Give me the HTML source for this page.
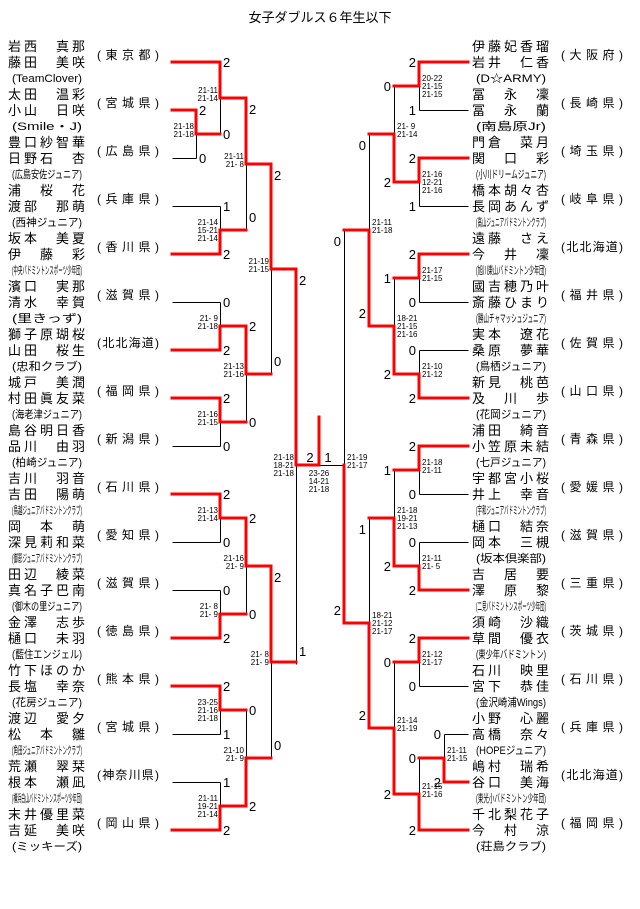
<!DOCTYPE html>
<html><head><meta charset="utf-8"><style>
html,body{margin:0;padding:0;background:#fff;width:640px;height:909px;overflow:hidden}
svg{display:block}
text{font-family:"Liberation Sans","Noto Sans CJK JP",sans-serif;fill:#000}
</style></head><body>
<svg id="s" width="640" height="909" xmlns="http://www.w3.org/2000/svg">
<g id="blk" stroke="#000" stroke-width="1" fill="none"></g>
<g id="red" stroke="#f00" stroke-width="3" fill="none" stroke-linecap="square"></g>
<g id="txt"></g>
</svg>
<script>
const NS="http://www.w3.org/2000/svg";
const B=document.getElementById('blk'),R=document.getElementById('red'),TX=document.getElementById('txt');
function ln(x1,y1,x2,y2,red){const e=document.createElementNS(NS,'line');
 if(!red){x1+=.5;x2+=.5;y1+=.5;y2+=.5;}
 e.setAttribute('x1',x1);e.setAttribute('y1',y1);e.setAttribute('x2',x2);e.setAttribute('y2',y2);(red?R:B).appendChild(e);}
function tx(x,y,s,size,anchor,len,adj){const e=document.createElementNS(NS,'text');
 e.setAttribute('x',x);e.setAttribute('y',y);e.setAttribute('font-size',size);
 if(anchor)e.setAttribute('text-anchor',anchor);
 if(len){e.setAttribute('textLength',len);e.setAttribute('lengthAdjust',adj||'spacingAndGlyphs');}
 e.textContent=s;TX.appendChild(e);return e;}
tx(320,22,'女子ダブルス６年生以下',13,'middle');
const left=[
['岩西　真那','藤田　美咲','(TeamClover)','東京都'],
['太田　温彩','小山　日咲','(Smile・J)','宮城県'],
['豊口紗智華','日野石　杏','(広島安佐ジュニア)','広島県'],
['浦　桜　花','渡部　那萌','(西神ジュニア)','兵庫県'],
['坂本　美夏','伊　藤　彩','(中央バドミントンスポーツ少年団)','香川県'],
['濱口　実那','清水　幸賀','(里きっず)','滋賀県'],
['獅子原瑚桜','山田　桜生','(忠和クラブ)','北北海道'],
['城戸　美潤','村田眞友菜','(海老津ジュニア)','福岡県'],
['島谷明日香','品川　由羽','(柏崎ジュニア)','新潟県'],
['吉川　羽音','吉田　陽萌','(鳥越ジュニアバドミントンクラブ)','石川県'],
['岡　本　萌','深見莉和菜','(御影ジュニアバドミントンクラブ)','愛知県'],
['田辺　綾菜','真名子巴南','(御木の里ジュニア)','滋賀県'],
['金澤　志歩','樋口　未羽','(藍住エンジェル)','徳島県'],
['竹下ほのか','長塩　幸奈','(花房ジュニア)','熊本県'],
['渡辺　愛夕','松　本　雛','(角田ジュニアバドミントンクラブ)','宮城県'],
['荒瀬　翠栞','根本　瀬凪','(横浜白山バドミントンスポーツ少年団)','神奈川県'],
['末井優里菜','吉延　美咲','(ミッキーズ)','岡山県']];
const right=[
['伊藤妃香瑠','岩井　仁香','(D☆ARMY)','大阪府'],
['冨　永　凜','冨　永　蘭','(南島原Jr)','長崎県'],
['門倉　菜月','関　口　彩','(小川ドリームジュニア)','埼玉県'],
['橋本胡々杏','長岡あんず','(高山ジュニアバドミントンクラブ)','岐阜県'],
['遠藤　さえ','今　井　凜','(旭川東山バドミントン少年団)','北北海道'],
['國吉穂乃叶','斎藤ひまり','(勝山チャマッシュジュニア)','福井県'],
['実本　遼花','桑原　夢華','(鳥栖ジュニア)','佐賀県'],
['新見　桃芭','及　川　歩','(花岡ジュニア)','山口県'],
['浦田　綺音','小笠原未結','(七戸ジュニア)','青森県'],
['宇都宮小桜','井上　幸音','(宇和ジュニアバドミントンクラブ)','愛媛県'],
['樋口　結奈','岡本　三槻','(坂本倶楽部)','滋賀県'],
['吉　居　要','澤　原　黎','(二見バドミントンスポーツ少年団)','三重県'],
['須崎　沙織','草間　優衣','(東少年バドミントン)','茨城県'],
['石川　映里','宮下　恭佳','(金沢崎浦Wings)','石川県'],
['小野　心麗','高橋　奈々','(HOPEジュニア)','兵庫県'],
['嶋村　瑞希','谷口　美海','(東光小バドミントン少年団)','北北海道'],
['千北梨花子','今　村　涼','(荘島クラブ)','福岡県']];
function team(d,i,nx,px){const b=48*i;
 tx(nx,51+b,d[0],13,null,77,'spacing');tx(nx,67+b,d[1],13,null,77,'spacing');
 tx(nx+4,82+b,d[2],11,null,70);tx(px,59+b,'('+d[3]+')',12,null,62,'spacing');}
left.forEach((d,i)=>team(d,i,8,97));
right.forEach((d,i)=>team(d,i,472,561));
const lRed=[0,1,4,6,7,9,12,13,16], rRed=[0,2,4,7,8,11,12,15,16];
for(let i=0;i<17;i++){const y=62+48*i;
 const lx=(i==1||i==2)?196:220; ln(172,y,lx,y,lRed.includes(i));
 const rx=(i==14||i==15)?444:419; ln(468,y,rx,y,rRed.includes(i));}
function m(side,x,yt,yb,w,st,sb,t,nx,o){o=o||{};const mid=o.mid||(yt+yb)/2;
 ln(x,yt,x,mid,w=='t');ln(x,mid,x,yb,w=='b');
 ln(x,mid,nx,mid,!o.outBlack);
 const ot=o.ot||0,ob=o.ob||0;
 const a1=side=='L'?'start':'end',sx=side=='L'?x+3:x-3;
 tx(sx,yt+ot+5,st,13,a1);tx(sx,yb+ob+5,sb,13,a1);
 const a2=side=='L'?'end':'start',mx=side=='L'?x-2:x+3;
 t.forEach((s,k)=>tx(mx,mid-8+8*k+3,s,8,a2));}
const F={ot:11,ob:-13};
m('L',196,110,158,'t','2','0',['21-18','21-18'],220);
m('L',220,62,134,'t','2','0',['21-11','21-14'],246,{mid:98});
m('L',220,206,254,'b','1','2',['21-14','15-21','21-14'],246);
m('L',246,98,230,'t','2','0',['21-11','21- 8'],271,{ot:11,ob:-13});
m('L',220,302,350,'b','0','2',['21- 9','21-18'],246);
m('L',220,398,446,'t','2','0',['21-16','21-15'],246);
m('L',246,326,422,'t','2','0',['21-13','21-16'],271);
m('L',271,164,374,'t','2','0',['21-19','21-15'],296,F);
m('L',220,494,542,'t','2','0',['21-13','21-14'],246);
m('L',220,590,638,'b','0','2',['21- 8','21- 9'],246);
m('L',246,518,614,'t','2','0',['21-16','21- 9'],271);
m('L',220,686,734,'t','2','1',['23-25','21-16','21-18'],246);
m('L',220,782,830,'b','1','2',['21-11','19-21','21-14'],246);
m('L',246,710,806,'b','0','2',['21-10','21- 9'],271);
m('L',271,566,758,'t','2','0',['21- 8','21- 9'],296,F);
m('L',296,269,664,'t','2','1',['21-18','18-21','21-18'],319,{mid:465,ot:11,ob:-13});
m('R',419,62,110,'t','2','1',['20-22','21-15','21-15'],394);
m('R',419,158,206,'t','2','1',['21-16','12-21','21-16'],394);
m('R',394,86,182,'b','0','2',['21- 9','21-14'],369);
m('R',419,254,302,'t','2','0',['21-17','21-15'],394);
m('R',419,350,398,'b','0','2',['21-10','21-12'],394);
m('R',394,278,374,'b','1','2',['18-21','21-15','21-16'],369);
m('R',369,134,326,'b','0','2',['21-11','21-18'],344,F);
m('R',419,446,494,'t','2','0',['21-18','21-11'],394);
m('R',419,542,590,'b','0','2',['21-11','21- 5'],394);
m('R',394,470,566,'b','1','2',['21-18','19-21','21-13'],369);
m('R',419,638,686,'t','2','0',['21-12','21-17'],394);
m('R',444,734,782,'b','0','2',['21-11','21-15'],419);
m('R',419,758,830,'b','0','2',['21-15','21-16'],394);
m('R',394,662,794,'b','0','2',['21-14','21-19'],369);
m('R',369,518,728,'b','1','2',['18-21','21-12','21-17'],344,F);
m('R',344,230,623,'b','0','2',['21-19','21-17'],319,{mid:465,outBlack:true,ot:11,ob:-13});
ln(319,465,319,417,true);
tx(310,462,'2',13,'middle');tx(328,462,'1',13,'middle');
['23-26','14-21','21-18'].forEach((s,k)=>tx(319,476+8*k,s,8,'middle'));
</script>
</body></html>
